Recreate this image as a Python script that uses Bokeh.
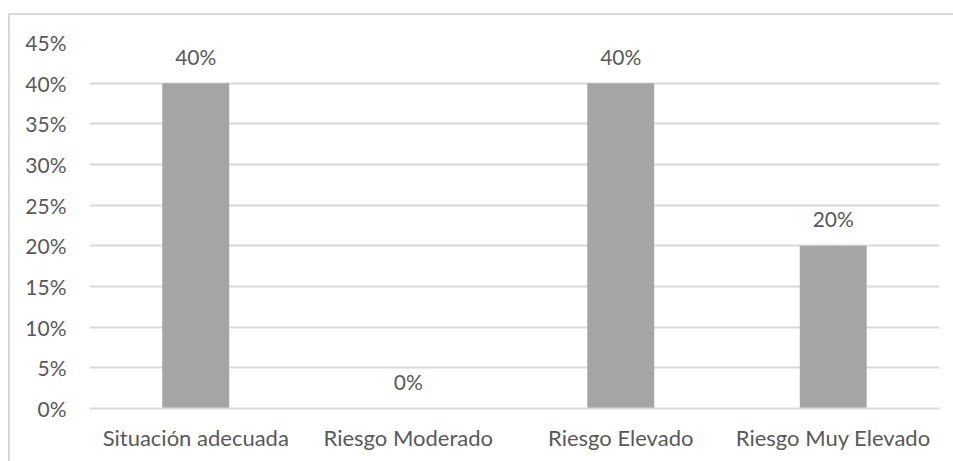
from bokeh.plotting import figure
from bokeh.models import ColumnDataSource, FactorRange, Range1d, FixedTicker, NumeralTickFormatter
from bokeh.core.properties import value
from bokeh.embed import file_html
from bokeh.resources import INLINE

categories = ["Situación adecuada", "Riesgo Moderado", "Riesgo Elevado", "Riesgo Muy Elevado"]
values = [0.40, 0.00, 0.40, 0.20]
y_ticks = [0.0, 0.05, 0.10, 0.15, 0.20, 0.25, 0.30, 0.35, 0.40, 0.45]

FONT = "Lato"
TEXT = "#595959"
GRID = "#D9D9D9"
BAR = "#A5A5A5"
FS_NUM = "21px"
FS_CAT = "22px"

src = ColumnDataSource(dict(cat=categories, val=values,
                            lab=[f"{round(v*100)}%" for v in values]))

p = figure(x_range=FactorRange(factors=categories), y_range=Range1d(0, 0.45),
           width=945, height=448, output_backend="svg", toolbar_location=None,
           min_border_left=79, min_border_right=16, min_border_top=27, min_border_bottom=55,
           margin=(13, 0, 0, 8),
           styles={"border-left": f"2px solid {GRID}", "border-top": f"2px solid {GRID}"})
p.outline_line_color = None
p.background_fill_color = "white"
p.border_fill_color = "white"

p.vbar(x="cat", top="val", width=0.315, source=src, fill_color=BAR, line_color=None)
p.text(x="cat", y="val", text="lab", source=src, text_align="center",
       text_baseline="alphabetic", y_offset=-27, text_font=value(FONT),
       text_font_size=FS_NUM, text_color=TEXT)

p.yaxis.ticker = FixedTicker(ticks=y_ticks)
p.yaxis.formatter = NumeralTickFormatter(format="0%")
p.yaxis.axis_line_color = None
p.yaxis.major_tick_line_color = None
p.yaxis.minor_tick_line_color = None
p.yaxis.major_label_standoff = 17
p.yaxis.major_label_text_font = FONT
p.yaxis.major_label_text_font_size = FS_NUM
p.yaxis.major_label_text_color = TEXT

p.xaxis.axis_line_color = GRID
p.xaxis.axis_line_width = 2
p.xaxis.major_tick_line_color = None
p.xaxis.minor_tick_line_color = None
p.xaxis.major_label_standoff = 9
p.xaxis.major_label_text_font = FONT
p.xaxis.major_label_text_font_size = FS_CAT
p.xaxis.major_label_text_color = TEXT

p.xgrid.grid_line_color = None
p.ygrid.grid_line_color = GRID
p.ygrid.grid_line_width = 2

open("out.html", "w").write(file_html(p, INLINE))
